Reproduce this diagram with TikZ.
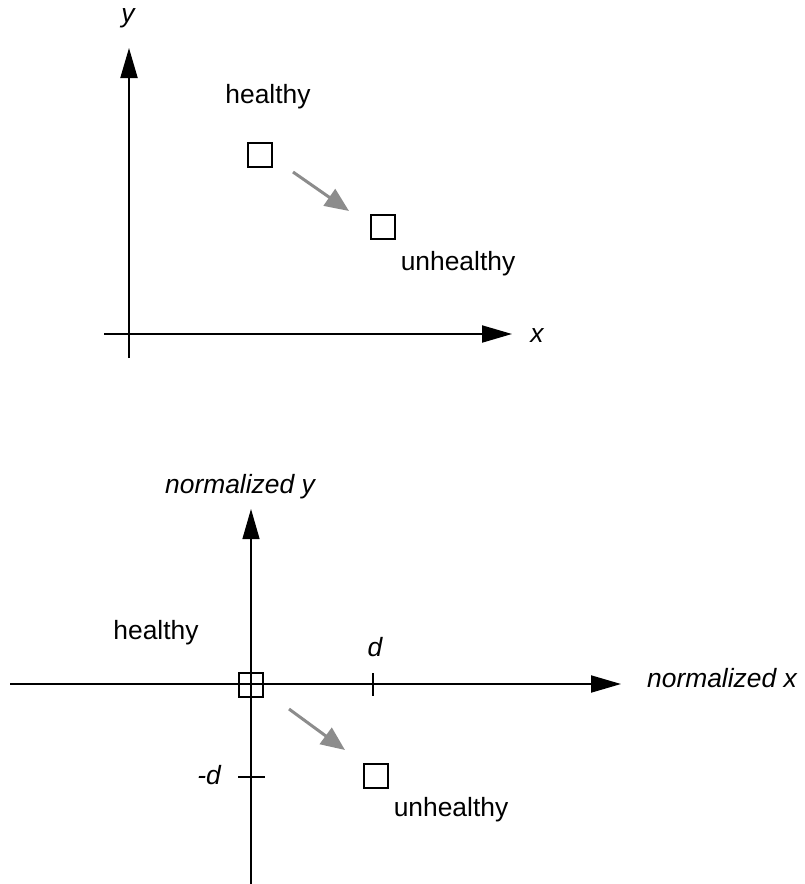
\documentclass[tikz,border=0pt]{standalone}
\usepackage{fontspec}
\setmainfont{Liberation Sans}
\usetikzlibrary{arrows.meta}
\tikzset{
  axis/.style={line width=1pt,-{Triangle[length=15pt,width=8.5pt]}},
  thinaxis/.style={line width=0.6pt},
  pt/.style={draw,line width=0.75pt,minimum size=12pt,inner sep=0pt,fill=none},
  move/.style={draw=gray!90,line width=1.5pt,-{Triangle[length=12pt,width=10pt]}},
  lbl/.style={font=\fontsize{13.2}{15}\selectfont,inner sep=0pt},
  ilbl/.style={font=\fontsize{13.2}{15}\selectfont\itshape,inner sep=0pt},
  tick/.style={line width=0.6pt}
}
\begin{document}
\begin{tikzpicture}[x=0.5pt,y=-0.5pt]
\useasboundingbox (0,0) rectangle (804,884);
% ---------- top panel ----------
\coordinate (ya0) at (129,358);
\coordinate (ya1) at (129,48);
\coordinate (xa0) at (104,334);
\coordinate (xa1) at (512,334);
\draw[axis] (ya0) -- (ya1);
\draw[axis] (xa0) -- (xa1);
\node[ilbl] (ylab) at (128,18) {y};
\node[ilbl] (xlab) at (537,336) {x};
\node[lbl] (h1) at (268,97) {healthy};
\node[lbl] (u1) at (458,264) {unhealthy};
\node[pt] (s1) at (260,155) {};
\node[pt] (s2) at (383,227) {};
\coordinate (m1a) at (293,172);
\coordinate (m1b) at (349,211);
\draw[move] (m1a) -- (m1b);
% ---------- bottom panel ----------
\coordinate (ny0) at (251,884);
\coordinate (ny1) at (251,509);
\coordinate (nx0) at (10,684);
\coordinate (nx1) at (621,684);
\draw[thinaxis,-{Triangle[length=15pt,width=8.5pt]}] (ny0) -- (ny1);
\draw[axis] (nx0) -- (nx1);
\node[ilbl] (nylab) at (240,487) {normalized y};
\node[ilbl] (nxlab) at (722,678) {normalized x};
\node[lbl] (h2) at (156,633) {healthy};
\node[lbl] (u2) at (451,810) {unhealthy};
\node[pt] (s3) at (251,685) {};
\node[pt] (s4) at (376,776) {};
\coordinate (m2a) at (289,709);
\coordinate (m2b) at (345,750);
\draw[move] (m2a) -- (m2b);
% ticks
\coordinate (td0) at (373,673);
\coordinate (td1) at (373,696);
\draw[tick] (td0) -- (td1);
\node[ilbl] (dlab) at (375,647) {d};
\coordinate (tm0) at (238,777);
\coordinate (tm1) at (265,777);
\draw[tick] (tm0) -- (tm1);
\node[ilbl] (mdlab) at (209,775) {-d};
\end{tikzpicture}
\end{document}
